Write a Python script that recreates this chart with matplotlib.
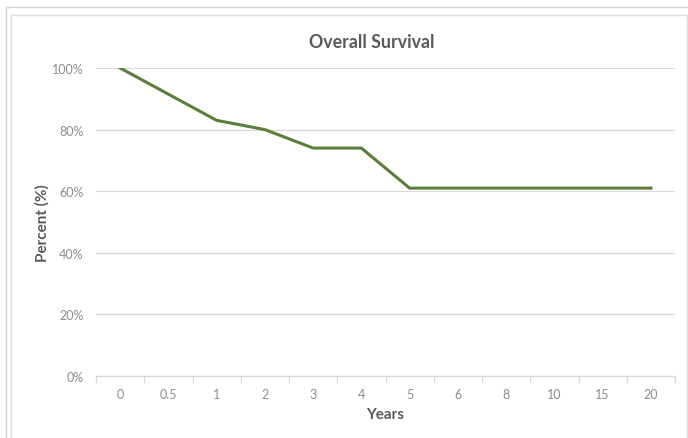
import matplotlib
matplotlib.use("Agg")
import matplotlib.pyplot as plt
from matplotlib.lines import Line2D
from matplotlib.ticker import PercentFormatter

years = ["0", "0.5", "1", "2", "3", "4", "5", "6", "8", "10", "15", "20"]
survival = [100, 91.5, 83, 80, 74, 74, 61, 61, 61, 61, 61, 61]
yticks = [0, 20, 40, 60, 80, 100]

line_color = "#5b7f3a"
text_color = "#595959"
tick_color = "#8c8c8c"
grid_color = "#d9d9d9"

plt.rcParams["font.family"] = ["Lato", "DejaVu Sans"]

W, H = 688, 439
fig = plt.figure(figsize=(W / 100, H / 100), dpi=100)
ax = fig.add_axes([96 / W, 1 - 377 / H, (675 - 96) / W, (377 - 69) / H])


def border(xs, ys, color):
    # xs, ys in pixels from the top left corner
    fig.add_artist(Line2D([x / W for x in xs], [1 - y / H for y in ys],
                          transform=fig.transFigure, color=color, linewidth=1))


# double border of the pasted chart
border([5.5, 5.5, 688], [439, 7.5, 7.5], "#d4d4d4")
border([11.5, 11.5, 686.5, 686.5], [439, 15.5, 15.5, 439], "#dedede")

x = list(range(len(years)))
ax.plot(x, survival, color=line_color, linewidth=2.2, solid_joinstyle="round", zorder=3)

ax.set_xlim(-0.5, len(years) - 0.5)
ax.set_ylim(0, 100)
ax.set_yticks(yticks)
ax.yaxis.set_major_formatter(PercentFormatter(decimals=0))
ax.set_xticks(x)
ax.set_xticklabels(years)
ax.set_xticks([i - 0.5 for i in range(len(years) + 1)], minor=True)

ax.grid(axis="y", color=grid_color, linewidth=0.9)
ax.set_axisbelow(True)
for side in ["top", "right", "left"]:
    ax.spines[side].set_visible(False)
ax.spines["bottom"].set_color(grid_color)
ax.spines["bottom"].set_linewidth(0.9)

ax.tick_params(axis="y", length=0, pad=9, labelsize=9, labelcolor=tick_color)
ax.tick_params(axis="x", which="major", length=0, pad=9, labelsize=9, labelcolor=tick_color)
ax.tick_params(axis="x", which="minor", length=5, width=0.9, color=grid_color)

ax.set_title("Overall Survival", fontsize=12.8, fontweight="bold", color=text_color,
             pad=15, x=0.476)
ax.set_xlabel("Years", fontsize=11, fontweight="bold", color=text_color, labelpad=5)
ax.set_ylabel("Percent (%)", fontsize=11, fontweight="bold", color=text_color, labelpad=2)

fig.savefig("out.png", dpi=100)
